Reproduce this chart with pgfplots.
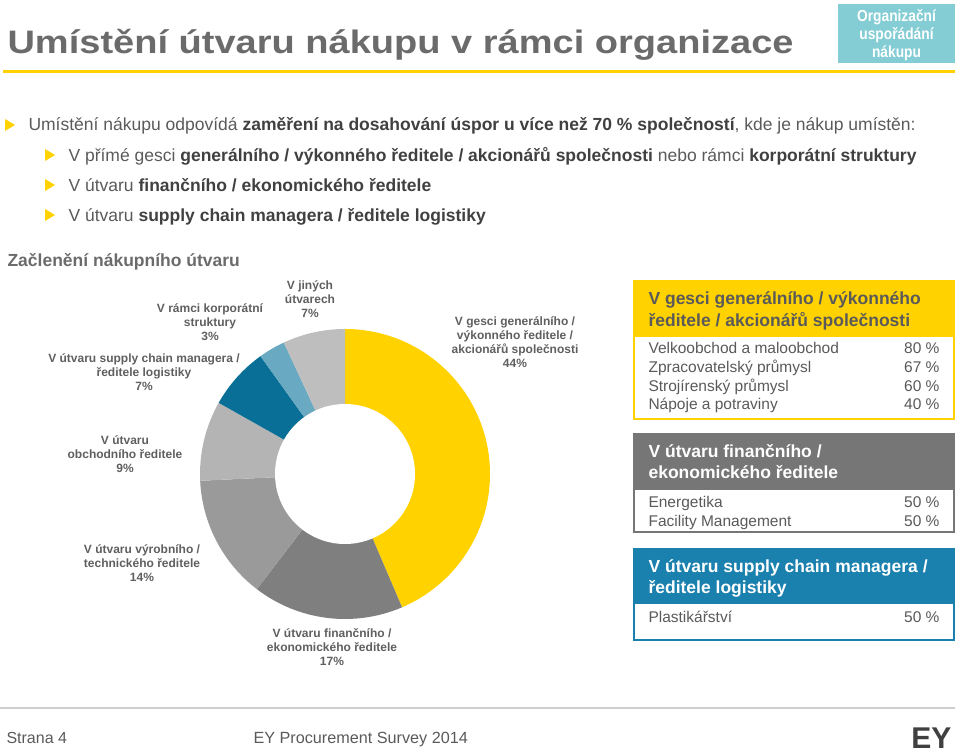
\documentclass[border=0pt]{standalone}
\usepackage{pgfplots}
\pgfplotsset{compat=1.18}
\usepackage{fontspec}
\setmainfont{Liberation Sans}
\newfontfamily\titlefont[FakeStretch=1.17]{Liberation Sans}
\newfontfamily\narrowfont[FakeStretch=0.86]{Liberation Sans}
\definecolor{eyyellow}{HTML}{FFD200}
\definecolor{titlegray}{HTML}{6B6B6B}
\definecolor{txt}{HTML}{5A5A5A}
\definecolor{txtb}{HTML}{404040}
\definecolor{lab}{HTML}{5F5F5F}
\definecolor{s1}{HTML}{FFD200}
\definecolor{s2}{HTML}{7F7F7F}
\definecolor{s3}{HTML}{9A9A9A}
\definecolor{s4}{HTML}{B4B4B4}
\definecolor{s5}{HTML}{0A6F96}
\definecolor{s6}{HTML}{6AA9C2}
\definecolor{s7}{HTML}{BEBEBE}
\definecolor{tealbox}{HTML}{84CDD5}
\definecolor{hgray}{HTML}{767676}
\definecolor{hblue}{HTML}{1A80AE}
\definecolor{footline}{HTML}{CFCFCF}
\newcommand\fs[1]{\fontsize{#1}{#1}\selectfont}
\newcommand\B[1]{{\color{txtb}\bfseries #1}}
\begin{document}
\begin{tikzpicture}
\begin{axis}[at={(0,0)},anchor=south west, scale only axis, x=1pt, y=1pt,
  xmin=0,xmax=960,ymin=0,ymax=754, y dir=reverse, hide axis, clip=false,
  every node/.append style={inner sep=0pt, outer sep=0pt}]
% ---- donut ----
\xdef\cum{0}
\foreach \v/\c in {44/s1,17/s2,14/s3,9/s4,7/s5,3/s6,7/s7}{
  \pgfmathsetmacro\aone{90-\cum*(360/101)}
  \pgfmathsetmacro\atwo{90-(\cum+\v)*(360/101)}
  \edef\temp{\noexpand\fill[\c] (axis cs:345,474) -- ++(\aone:145pt) arc[start angle=\aone, end angle=\atwo, radius=145pt] -- cycle;}
  \temp
  \pgfmathsetmacro\newcum{\cum+\v}
  \xdef\cum{\newcum}
}
\fill[white] (axis cs:345,474) circle[radius=70pt];
% ---- donut labels ----
\tikzset{lab/.style={font=\fontsize{12}{13.8}\selectfont\bfseries, align=center, text=lab}}
\node[lab] at (axis cs:310,299) {V jiných\\útvarech\\7\%};
\node[lab] at (axis cs:210,322) {V rámci korporátní\\struktury\\3\%};
\node[lab] at (axis cs:144,372) {V útvaru supply chain managera /\\ředitele logistiky\\7\%};
\node[lab] at (axis cs:515,342) {V gesci generálního /\\výkonného ředitele /\\akcionářů společnosti\\44\%};
\node[lab] at (axis cs:125,454) {V útvaru\\obchodního ředitele\\9\%};
\node[lab] at (axis cs:142,563) {V útvaru výrobního /\\technického ředitele\\14\%};
\node[lab] at (axis cs:332,647) {V útvaru finančního /\\ekonomického ředitele\\17\%};
% ---- title ----
\node[anchor=base west, font=\titlefont\fs{32.5}\bfseries, text=titlegray] at (axis cs:4,54) {Umístění útvaru nákupu v rámci organizace};
\fill[tealbox] (axis cs:838,4) rectangle (axis cs:955,63);
\node[anchor=base, font=\narrowfont\fs{16}\bfseries, text=white] at (axis cs:896.5,22) {Organizační};
\node[anchor=base, font=\narrowfont\fs{16}\bfseries, text=white] at (axis cs:896.5,40) {uspořádání};
\node[anchor=base, font=\narrowfont\fs{16}\bfseries, text=white] at (axis cs:896.5,58) {nákupu};
\draw[eyyellow, line width=3pt] (axis cs:3,72) -- (axis cs:955,72);
% ---- bullets ----
\fill[eyyellow] (axis cs:5,119) -- (axis cs:5,131) -- (axis cs:15,125) -- cycle;
\node[anchor=base west, font=\fs{17.5}, text=txt] at (axis cs:25,131) {Umístění nákupu odpovídá \B{zaměření na dosahování úspor u více než 70~\% společností}, kde je nákup umístěn:};
\fill[eyyellow] (axis cs:45,149) -- (axis cs:45,161) -- (axis cs:55,155) -- cycle;
\node[anchor=base west, font=\fs{17.5}, text=txt] at (axis cs:65,161) {V přímé gesci \B{generálního / výkonného ředitele / akcionářů společnosti} nebo rámci \B{korporátní struktury}};
\fill[eyyellow] (axis cs:45,179) -- (axis cs:45,191) -- (axis cs:55,185) -- cycle;
\node[anchor=base west, font=\fs{17.5}, text=txt] at (axis cs:65,191) {V útvaru \B{finančního / ekonomického ředitele}};
\fill[eyyellow] (axis cs:45,209) -- (axis cs:45,221) -- (axis cs:55,215) -- cycle;
\node[anchor=base west, font=\fs{17.5}, text=txt] at (axis cs:65,221) {V útvaru \B{supply chain managera / ředitele logistiky}};
\node[anchor=base west, font=\fs{17.5}\bfseries, text=titlegray] at (axis cs:4,266) {Začlenění nákupního útvaru};
% ---- box 1 ----
\draw[eyyellow, line width=2pt, fill=white] (axis cs:634,281) rectangle (axis cs:954,419);
\fill[eyyellow] (axis cs:634,281) rectangle (axis cs:954,337);
\node[anchor=base west, font=\fs{17.5}\bfseries, text=txt] at (axis cs:645,304) {V gesci generálního / výkonného};
\node[anchor=base west, font=\fs{17.5}\bfseries, text=txt] at (axis cs:645,326) {ředitele / akcionářů společnosti};
\node[anchor=base west, font=\fs{15.5}, text=txt] at (axis cs:645,353) {Velkoobchod a maloobchod};
\node[anchor=base east, font=\fs{15.5}, text=txt] at (axis cs:943,353) {80 \%};
\node[anchor=base west, font=\fs{15.5}, text=txt] at (axis cs:645,372) {Zpracovatelský průmysl};
\node[anchor=base east, font=\fs{15.5}, text=txt] at (axis cs:943,372) {67 \%};
\node[anchor=base west, font=\fs{15.5}, text=txt] at (axis cs:645,391) {Strojírenský průmysl};
\node[anchor=base east, font=\fs{15.5}, text=txt] at (axis cs:943,391) {60 \%};
\node[anchor=base west, font=\fs{15.5}, text=txt] at (axis cs:645,409) {Nápoje a potraviny};
\node[anchor=base east, font=\fs{15.5}, text=txt] at (axis cs:943,409) {40 \%};
% ---- box 2 ----
\draw[hgray, line width=2pt, fill=white] (axis cs:634,434) rectangle (axis cs:954,532);
\fill[hgray] (axis cs:634,434) rectangle (axis cs:954,490);
\node[anchor=base west, font=\fs{17.5}\bfseries, text=white] at (axis cs:645,457) {V útvaru finančního /};
\node[anchor=base west, font=\fs{17.5}\bfseries, text=white] at (axis cs:645,478) {ekonomického ředitele};
\node[anchor=base west, font=\fs{15.5}, text=txt] at (axis cs:645,507) {Energetika};
\node[anchor=base east, font=\fs{15.5}, text=txt] at (axis cs:943,507) {50 \%};
\node[anchor=base west, font=\fs{15.5}, text=txt] at (axis cs:645,526) {Facility Management};
\node[anchor=base east, font=\fs{15.5}, text=txt] at (axis cs:943,526) {50 \%};
% ---- box 3 ----
\draw[hblue, line width=2pt, fill=white] (axis cs:634,549) rectangle (axis cs:954,640);
\fill[hblue] (axis cs:634,549) rectangle (axis cs:954,604);
\node[anchor=base west, font=\fs{17.5}\bfseries, text=white] at (axis cs:645,572) {V útvaru supply chain managera /};
\node[anchor=base west, font=\fs{17.5}\bfseries, text=white] at (axis cs:645,593) {ředitele logistiky};
\node[anchor=base west, font=\fs{15.5}, text=txt] at (axis cs:645,622) {Plastikářství};
\node[anchor=base east, font=\fs{15.5}, text=txt] at (axis cs:943,622) {50 \%};
% ---- footer ----
\draw[footline, line width=2pt] (axis cs:0,708) -- (axis cs:955,708);
\node[anchor=base west, font=\fs{16}, text=txt] at (axis cs:3,743) {Strana 4};
\node[anchor=base west, font=\fs{16.2}, text=txt] at (axis cs:250,743) {EY Procurement Survey 2014};
\node[anchor=base east, font=\fs{30}\bfseries, text=txtb] at (axis cs:955,748) {EY};
\end{axis}
\pgfresetboundingbox
\path[use as bounding box] (0,0) rectangle (960pt,754pt);
\end{tikzpicture}
\end{document}
